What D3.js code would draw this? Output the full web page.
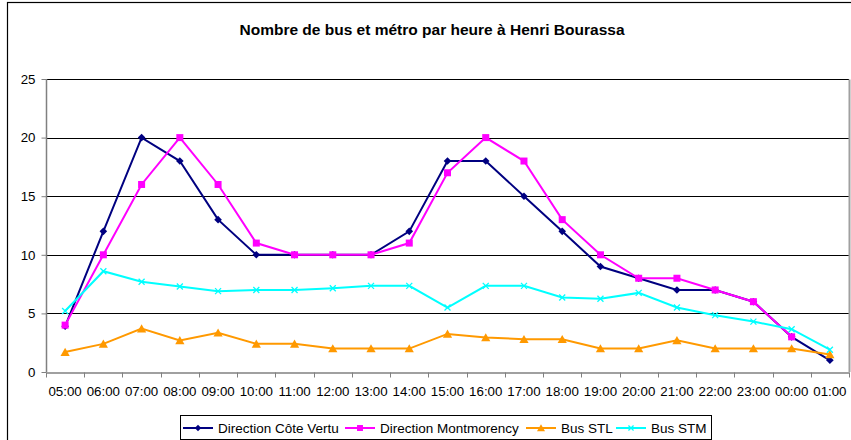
<!DOCTYPE html>
<html>
<head>
<meta charset="utf-8">
<script src="https://cdn.jsdelivr.net/npm/d3@7"></script>
<style>
  html, body { margin: 0; padding: 0; background: #fff; }
  svg { display: block; font-family: "Liberation Sans", Arial, sans-serif; }
</style>
</head>
<body>
<svg id="chart" width="851" height="440"></svg>
<script>
// Hourly departures at Henri Bourassa
const hours = ["05:00","06:00","07:00","08:00","09:00","10:00","11:00","12:00","13:00","14:00",
               "15:00","16:00","17:00","18:00","19:00","20:00","21:00","22:00","23:00","00:00","01:00"];
const coteVertu   = [3.9, 12, 20, 18, 13, 10, 10, 10, 10, 12, 18, 18, 15, 12, 9, 8, 7, 7, 6, 3, 1];
const montmorency = [4, 10, 16, 20, 16, 11, 10, 10, 10, 11, 17, 20, 18, 13, 10, 8, 8, 7, 6, 3, null];
const busSTL      = [1.7, 2.4, 3.7, 2.7, 3.35, 2.4, 2.4, 2.0, 2.0, 2.0, 3.25, 2.95, 2.8, 2.8, 2.0, 2.0, 2.7, 2.0, 2.0, 2.0, 1.5];
const busSTM      = [5.2, 8.6, 7.7, 7.3, 6.9, 7.0, 7.0, 7.15, 7.35, 7.35, 5.5, 7.35, 7.35, 6.35, 6.25, 6.75, 5.5, 4.85, 4.3, 3.65, 1.9];
const yTicks = [0, 5, 10, 15, 20, 25];
const title = "Nombre de bus et métro par heure à Henri Bourassa";

const series = [
  { name: "Direction Côte Vertu",   values: coteVertu,   color: "#000080", marker: "diamond" },
  { name: "Direction Montmorency",  values: montmorency, color: "#ff00ff", marker: "square" },
  { name: "Bus STL",                values: busSTL,      color: "#ff9900", marker: "triangle" },
  { name: "Bus STM",                values: busSTM,      color: "#00ffff", marker: "cross" }
];

const svg = d3.select("#chart");
const plot = { left: 46, right: 849, top: 79, bottom: 372 };

// outer chart frame
svg.append("rect").attr("x", 7.5).attr("y", 2.5).attr("width", 900).attr("height", 500)
  .attr("fill", "#fff").attr("stroke", "#000").attr("stroke-width", 1.2);

svg.append("text").attr("x", 432).attr("y", 35).attr("text-anchor", "middle")
  .attr("font-size", 15.5).attr("font-weight", "bold").text(title);

const x = d3.scaleBand().domain(hours).range([plot.left, plot.right]);
const y = d3.scaleLinear().domain([0, 25]).range([plot.bottom, plot.top]);

// gridlines
svg.append("g").selectAll("line").data(yTicks.filter(d => d > 0)).join("line")
  .attr("x1", plot.left).attr("x2", plot.right)
  .attr("y1", d => Math.round(y(d)) + 0.5).attr("y2", d => Math.round(y(d)) + 0.5)
  .attr("stroke", "#000").attr("stroke-width", 1);

// plot area right border
svg.append("line").attr("x1", plot.right + 0.5).attr("x2", plot.right + 0.5)
  .attr("y1", Math.round(y(25)) + 0.5).attr("y2", plot.bottom)
  .attr("stroke", "#a0a0a0").attr("stroke-width", 2);

// axes
const yAxis = svg.append("g").attr("transform", `translate(${plot.left + 0.5},0)`)
  .call(d3.axisLeft(y).tickValues(yTicks).tickSize(5).tickPadding(6).tickSizeOuter(0));
const xAxis = svg.append("g").attr("transform", `translate(0,${Math.round(plot.bottom) + 0.5})`)
  .call(d3.axisBottom(x).tickSize(0).tickPadding(14));
// category boundary ticks
const bounds = hours.map(h => x(h)).concat([plot.right]);
xAxis.selectAll(".bound").data(bounds).join("line").attr("class", "bound")
  .attr("x1", d => Math.round(d) + 0.5).attr("x2", d => Math.round(d) + 0.5)
  .attr("y1", 0).attr("y2", 5).attr("stroke", "#808080");

[yAxis, xAxis].forEach(g => {
  g.select(".domain").attr("stroke", "#808080").attr("stroke-width", 1.5);
  g.selectAll(".tick line").attr("stroke", "#808080");
  g.selectAll("text").attr("font-size", 13.3).attr("fill", "#000")
    .attr("font-family", "'Liberation Sans', Arial, sans-serif");
});
yAxis.select(".domain").attr("d", `M0,${y(25)}V${plot.bottom}`);

const cx = i => x(hours[i]) + x.bandwidth() / 2;
const line = d3.line().defined(d => d != null).x((d, i) => cx(i)).y(d => y(d));

function marker(g, type, color, size) {
  if (type === "diamond") {
    g.append("path").attr("d", `M0,${-size}L${size},0L0,${size}L${-size},0Z`).attr("fill", color);
  } else if (type === "square") {
    g.append("rect").attr("x", -size).attr("y", -size).attr("width", size * 2).attr("height", size * 2).attr("fill", color);
  } else if (type === "triangle") {
    g.append("path").attr("d", `M0,${-size - 0.5}L${size + 0.8},${size}L${-size - 0.8},${size}Z`).attr("fill", color);
  } else {
    g.append("path").attr("d", `M${-size},${-size}L${size},${size}M${-size},${size}L${size},${-size}`)
      .attr("stroke", color).attr("stroke-width", 1.3);
  }
}
const sizes = { diamond: 3.8, square: 3.5, triangle: 3.8, cross: 3 };

series.forEach(s => {
  svg.append("path").datum(s.values).attr("d", line)
    .attr("fill", "none").attr("stroke", s.color).attr("stroke-width", 2);
  s.values.forEach((v, i) => {
    if (v == null) return;
    const g = svg.append("g").attr("transform", `translate(${cx(i)},${y(v)})`);
    marker(g, s.marker, s.color, sizes[s.marker]);
  });
});

// legend
const legend = svg.append("g");
legend.append("rect").attr("x", 180.5).attr("y", 415.5).attr("width", 531).attr("height", 24)
  .attr("fill", "#fff").attr("stroke", "#000").attr("stroke-width", 1);
const legX = [183, 345, 526, 616];
series.forEach((s, i) => {
  const g = legend.append("g").attr("transform", `translate(${legX[i]},428)`);
  g.append("line").attr("x1", 0).attr("x2", 30).attr("stroke", s.color).attr("stroke-width", 2);
  marker(g.append("g").attr("transform", "translate(15,0)"), s.marker, s.color, sizes[s.marker] * 0.85);
  g.append("text").attr("x", 35).attr("y", 4.8).attr("font-size", 13.5).text(s.name);
});
</script>
</body>
</html>
